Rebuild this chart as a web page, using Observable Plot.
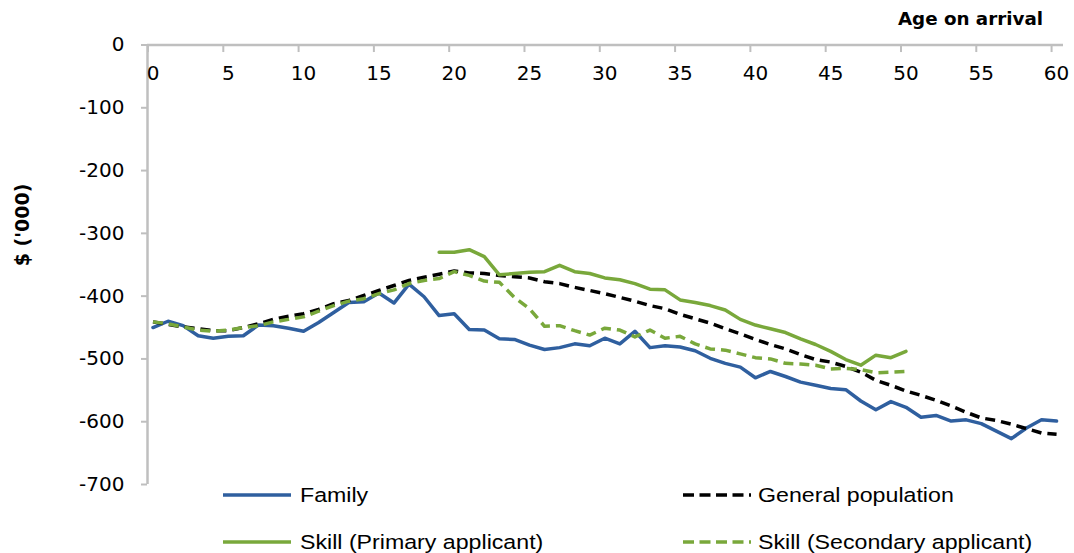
<!DOCTYPE html>
<html>
<head>
<meta charset="utf-8">
<script src="https://cdn.jsdelivr.net/npm/d3@7"></script>
<script src="https://cdn.jsdelivr.net/npm/@observablehq/plot@0.6"></script>
<style>
  html, body { margin: 0; padding: 0; background: #fff; }
  #wrap { position: relative; width: 1074px; height: 553px; overflow: hidden; font-family: "Liberation Sans", Arial, sans-serif; }
  #xtitle { position: absolute; right: 31px; top: 7px; font: bold 18.3px "DejaVu Sans", sans-serif; line-height: 24px; }
  #ytitle { position: absolute; left: 22px; top: 225px; transform: translate(-50%, -50%) rotate(-90deg); font: bold 19px "DejaVu Sans", sans-serif; white-space: nowrap; }
  #legend { position: relative; height: 63px; }
  .item { position: absolute; height: 30px; }
  .item svg { position: absolute; left: 0; top: 0; }
  .item span { position: absolute; top: 3px; font-size: 20.5px; line-height: 24px; white-space: nowrap; transform: scaleX(1.13); transform-origin: left center; color: #000; }
</style>
</head>
<body>
<div id="wrap">
  <div id="chart"></div>
  <div id="legend"></div>
  <div id="xtitle"></div>
  <div id="ytitle"></div>
</div>
<script>
// ---- data (values in $'000, by age on arrival) ----
const ages = d3.range(0, 61);
const family = [-450,-440,-447,-463,-467,-464,-463,-446,-447,-451,
  -456,-442,-426,-410,-409,-395,-411,-381,-401,-431,
  -428,-453,-454,-468,-469,-478,-485,-482,-476,-479,
  -467,-476,-456,-482,-479,-481,-487,-499,-507,-513,
  -530,-520,-528,-537,-542,-547,-549,-567,-581,-568,
  -577,-593,-590,-599,-597,-603,-615,-627,-610,-597,-599];
const generalPopulation = [-441,-445,-449,-452,-455,-455,-450,-444,-437,-432,
  -428,-421,-412,-407,-399,-391,-383,-375,-370,-365,
  -360,-363,-364,-367,-369,-371,-377,-380,-386,-391,
  -396,-402,-408,-415,-420,-429,-436,-443,-452,-460,
  -469,-477,-484,-493,-501,-505,-512,-521,-534,-542,
  -551,-558,-566,-575,-585,-594,-598,-604,-611,-618,-620];
const primaryStartAge = 19;
const skillPrimary = [-330,-330,-326,-337,-366,-364,-362,-361,-351,-361,
  -364,-371,-374,-380,-389,-390,-406,-410,-415,-422,
  -437,-446,-452,-458,-468,-477,-488,-501,-510,-494,-498,-488];
const skillSecondary = [-441,-444,-449,-454,-456,-454,-450,-447,-441,-437,
  -433,-424,-415,-408,-404,-396,-390,-380,-375,-372,
  -361,-367,-376,-378,-402,-420,-448,-447,-455,-462,
  -451,-454,-465,-454,-467,-464,-476,-484,-486,-492,
  -498,-500,-507,-508,-510,-516,-515,-517,-522,-521,-520];

const seriesNames = ["Family", "General population", "Skill (Primary applicant)", "Skill (Secondary applicant)"];
const xTicks = [0, 5, 10, 15, 20, 25, 30, 35, 40, 45, 50, 55, 60];
const yTicks = [0, -100, -200, -300, -400, -500, -600, -700];
const xTitle = "Age on arrival";
const yTitle = "$ ('000)";

// ---- styles ----
const styles = {
  "Family": {stroke: "#2f5f9f", dash: null},
  "General population": {stroke: "#000000", dash: "10,6"},
  "Skill (Primary applicant)": {stroke: "#79a83b", dash: null},
  "Skill (Secondary applicant)": {stroke: "#79a83b", dash: "10,6"}
};

const rows = (name, vals, start) => vals.map((v, i) => ({series: name, age: start + i, value: v}));
const tables = {
  "Family": rows("Family", family, ages[0]),
  "General population": rows("General population", generalPopulation, ages[0]),
  "Skill (Primary applicant)": rows("Skill (Primary applicant)", skillPrimary, primaryStartAge),
  "Skill (Secondary applicant)": rows("Skill (Secondary applicant)", skillSecondary, ages[0])
};

const xDomain = [-0.365, 60.46];
const axisGray = "#bfbfbf";

const chart = Plot.plot({
  width: 1074,
  height: 490,
  marginLeft: 147,
  marginRight: 11,
  marginTop: 44.5,
  marginBottom: 6,
  style: {background: "#fff", overflow: "visible"},
  x: {domain: xDomain, axis: null},
  y: {domain: [-700, 0], axis: null},
  marks: [
    Plot.axisY({ticks: yTicks, label: null, tickSize: 6, tickPadding: 17, stroke: axisGray, strokeWidth: 2, fill: "#000",
      fontSize: 20, fontFamily: "DejaVu Sans", tickFormat: d => String(d)}),
    Plot.ruleX([xDomain[0]], {stroke: axisGray, strokeWidth: 2.5}),
    Plot.ruleY([0], {stroke: axisGray, strokeWidth: 2.5}),
    Plot.ruleX(xTicks, {x: d => d, y1: 0, y2: -12, dx: -5, stroke: axisGray, strokeWidth: 2}),
    Plot.text(xTicks, {x: d => d, y: 0, dy: 29, text: d => String(d), fontSize: 20, fontFamily: "DejaVu Sans", fill: "#000"}),
    ...seriesNames.map(name => Plot.line(tables[name], {
      x: "age", y: "value",
      stroke: styles[name].stroke,
      strokeWidth: 3.5,
      strokeDasharray: styles[name].dash,
      strokeLinejoin: "round",
      strokeLinecap: styles[name].dash ? "butt" : "round"
    }))
  ]
});
document.getElementById("chart").appendChild(chart);

document.getElementById("xtitle").textContent = xTitle;
document.getElementById("ytitle").textContent = yTitle;

// ---- legend (2 columns) ----
const legend = document.getElementById("legend");
const colLeft = [222, 682];
const rowTop = [-10, 37];
seriesNames.forEach((name, i) => {
  const item = document.createElement("div");
  item.className = "item";
  item.style.left = colLeft[i % 2] + "px";
  item.style.top = rowTop[Math.floor(i / 2)] + "px";
  const s = styles[name];
  const sw = d3.create("svg").attr("width", 72).attr("height", 30);
  sw.append("line").attr("x1", 1).attr("x2", 69).attr("y1", 15).attr("y2", 15)
    .attr("stroke", s.stroke).attr("stroke-width", 3.5)
    .attr("stroke-dasharray", s.dash ? "11,5.5" : null);
  item.appendChild(sw.node());
  const t = document.createElement("span");
  t.style.left = (i % 2 === 0 ? 78 : 76) + "px";
  t.textContent = name;
  item.appendChild(t);
  legend.appendChild(item);
});
</script>
</body>
</html>
